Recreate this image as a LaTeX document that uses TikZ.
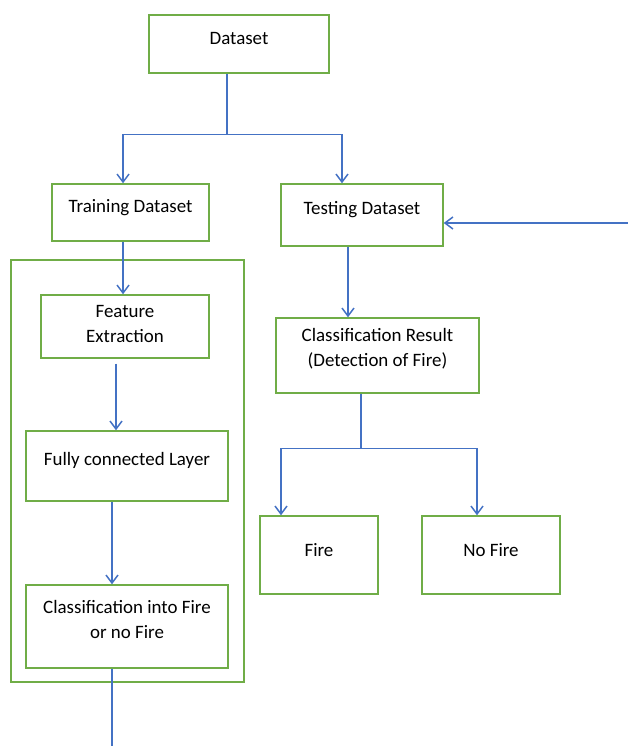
\documentclass[tikz,border=0pt]{standalone}
\usepackage{fontspec}
\setmainfont{Carlito}
\usetikzlibrary{arrows.meta}
\definecolor{boxgreen}{RGB}{112,173,71}
\definecolor{lineblue}{RGB}{68,114,196}
\begin{document}
\begin{tikzpicture}[x=0.75pt,y=-0.75pt,
 box/.style={draw=boxgreen,line width=1.1pt,inner sep=0pt},
 txt/.style={font=\fontsize{14.2}{18.75}\selectfont,align=center,yshift=4pt},
 link/.style={draw=lineblue,line width=1.1pt},
 flow/.style={link,-{Straight Barb[length=6pt,width=9pt,line width=1.1pt]}}]
\useasboundingbox (0,0) rectangle (628,746);
% boxes
\node[box,minimum width=135pt,minimum height=43.5pt,label={[txt]center:Dataset}] (data) at (239,44) {};
\node[box,minimum width=117.75pt,minimum height=42.75pt,label={[txt]center:Training Dataset}] (train) at (130.5,212.5) {};
\node[box,minimum width=121.5pt,minimum height=46.5pt,label={[txt]center:Testing Dataset}] (test) at (362,215) {};
\node[box,minimum width=174.75pt,minimum height=316.5pt] (frame) at (127.5,471) {};
\node[box,minimum width=126pt,minimum height=47.25pt,label={[txt,yshift=-2pt]center:Feature\\Extraction}] (feat) at (125,326.5) {};
\node[box,minimum width=151.5pt,minimum height=52.5pt,label={[txt]center:Fully connected Layer}] (fully) at (127,466) {};
\node[box,minimum width=151.5pt,minimum height=62.25pt,label={[txt,yshift=1pt]center:Classification into Fire\\or no Fire}] (cls) at (127,626.5) {};
\node[box,minimum width=152.25pt,minimum height=56.25pt,label={[txt,yshift=1pt]center:Classification Result\\(Detection of Fire)}] (res) at (377.5,355.5) {};
\node[box,minimum width=88.5pt,minimum height=58.5pt,label={[txt]center:Fire}] (fire) at (319,555) {};
\node[box,minimum width=103.5pt,minimum height=58.5pt,label={[txt]center:No Fire}] (nofire) at (491,555) {};
% connectors
\draw[link] ([xshift=-9pt]data.south) -- ++(0,61) coordinate (split);
\draw[flow] (split) -| ([xshift=-5.6pt]train.north);
\draw[flow] (split) -| ([xshift=-15pt]test.north);
\draw[flow] ([xshift=-5.6pt]train.south) -- ([xshift=-5.6pt]train.south |- feat.north);
\draw[flow] ([xshift=-6.75pt,yshift=-3.75pt]feat.south) -- ([xshift=-8.25pt]fully.north);
\draw[flow] ([xshift=-11.25pt]fully.south) -- ([xshift=-11.25pt]cls.north);
\coordinate (out) at (112,746);
\draw[link] ([xshift=-11.25pt]cls.south) -- (out);
\draw[flow] ([xshift=-10.5pt]test.south) -- ([xshift=-10.5pt]test.south |- res.north);
\draw[link] ([xshift=-12.4pt]res.south) -- ++(0,55) coordinate (fork);
\draw[flow] (fork) -| ([xshift=-28.5pt]fire.north);
\draw[flow] (fork) -| ([xshift=-10.5pt]nofire.north);
\coordinate (in) at (628,223);
\draw[flow] (in) -- (in -| test.east);
\end{tikzpicture}
\end{document}
